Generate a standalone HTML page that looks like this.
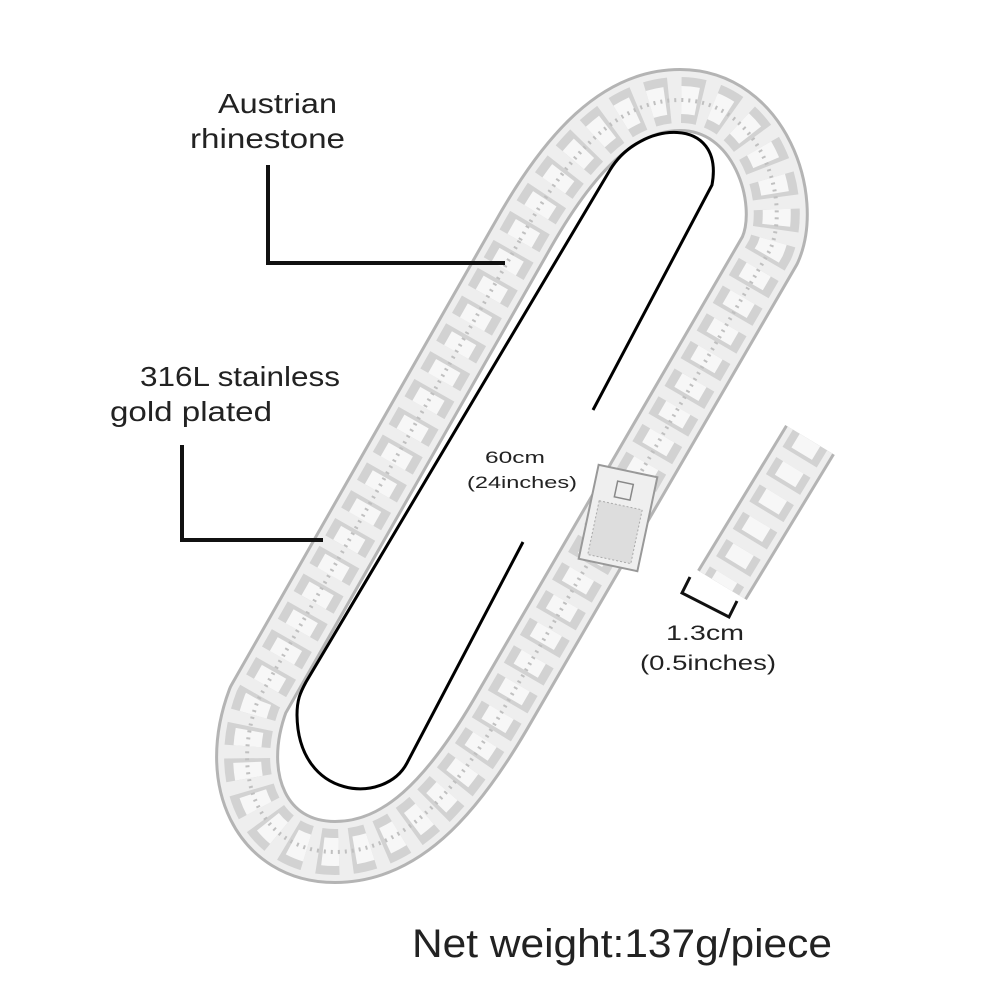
<!DOCTYPE html>
<html><head><meta charset="utf-8"><style>
html,body{margin:0;padding:0;background:#fff;}
svg{display:block}
text{font-family:"Liberation Sans",sans-serif;fill:#222;}
</style></head><body>
<svg width="1000" height="1000" viewBox="0 0 1000 1000">
<rect width="1000" height="1000" fill="#fff"/>
<g fill="none" stroke-linejoin="round">
<path d="M520,240 C570,150 620,100 680,100 C760,100 792,200 770,250 L500,715 C450,800 400,852 335,852 C262,852 228,780 258,700 Z" stroke="#b4b4b4" stroke-width="64"/>
<path d="M520,240 C570,150 620,100 680,100 C760,100 792,200 770,250 L500,715 C450,800 400,852 335,852 C262,852 228,780 258,700 Z" stroke="#eeeeee" stroke-width="58"/>
<path d="M520,240 C570,150 620,100 680,100 C760,100 792,200 770,250 L500,715 C450,800 400,852 335,852 C262,852 228,780 258,700 Z" stroke="#d2d2d2" stroke-width="46" stroke-dasharray="20 12"/>
<path d="M520,240 C570,150 620,100 680,100 C760,100 792,200 770,250 L500,715 C450,800 400,852 335,852 C262,852 228,780 258,700 Z" stroke="#f7f7f7" stroke-width="28" stroke-dasharray="16 16"/>
<path d="M520,240 C570,150 620,100 680,100 C760,100 792,200 770,250 L500,715 C450,800 400,852 335,852 C262,852 228,780 258,700 Z" stroke="#c0c0c0" stroke-width="4" stroke-dasharray="2 5"/>
</g>
<g transform="rotate(12 618 518)">
<rect x="588" y="470" width="60" height="96" fill="#efefef" stroke="#999" stroke-width="2"/>
<rect x="596" y="505" width="44" height="55" fill="#ddd" stroke="#aaa" stroke-width="1" stroke-dasharray="2 2"/>
<rect x="610" y="482" width="16" height="16" fill="none" stroke="#888" stroke-width="1.5"/>
</g>
<g fill="none">
<path d="M810,440 L722,585" stroke="#b4b4b4" stroke-width="58"/>
<path d="M810,440 L722,585" stroke="#eeeeee" stroke-width="52"/>
<path d="M810,440 L722,585" stroke="#d2d2d2" stroke-width="40" stroke-dasharray="20 12"/>
<path d="M810,440 L722,585" stroke="#f7f7f7" stroke-width="24" stroke-dasharray="16 16"/>
</g>
<path d="M690,577 L682,593 L729,617 L737,601" fill="none" stroke="#111" stroke-width="3"/>
<path d="M523,542 L407,763 C385,805 298,800 297,715 C297,700 300,693 306,682 L610,170 C640,120 725,115 712,185 L593,410" fill="none" stroke="#000" stroke-width="3"/>
<path d="M268,165 L268,263 L505,263" fill="none" stroke="#111" stroke-width="4"/>
<path d="M182,445 L182,540 L323,540" fill="none" stroke="#111" stroke-width="4"/>
<text x="218" y="113" font-size="28" textLength="119" lengthAdjust="spacingAndGlyphs">Austrian</text>
<text x="190" y="148" font-size="28" textLength="155" lengthAdjust="spacingAndGlyphs">rhinestone</text>
<text x="140" y="386" font-size="28" textLength="200" lengthAdjust="spacingAndGlyphs">316L stainless</text>
<text x="110" y="421" font-size="28" textLength="162" lengthAdjust="spacingAndGlyphs">gold plated</text>
<text x="485" y="463" font-size="17" textLength="60" lengthAdjust="spacingAndGlyphs">60cm</text>
<text x="467" y="488" font-size="17" textLength="110" lengthAdjust="spacingAndGlyphs">(24inches)</text>
<text x="666" y="640" font-size="21" textLength="78" lengthAdjust="spacingAndGlyphs">1.3cm</text>
<text x="640" y="670" font-size="21" textLength="136" lengthAdjust="spacingAndGlyphs">(0.5inches)</text>
<text x="412" y="957" font-size="40" textLength="420" lengthAdjust="spacingAndGlyphs">Net weight:137g/piece</text>
</svg>
</body></html>
